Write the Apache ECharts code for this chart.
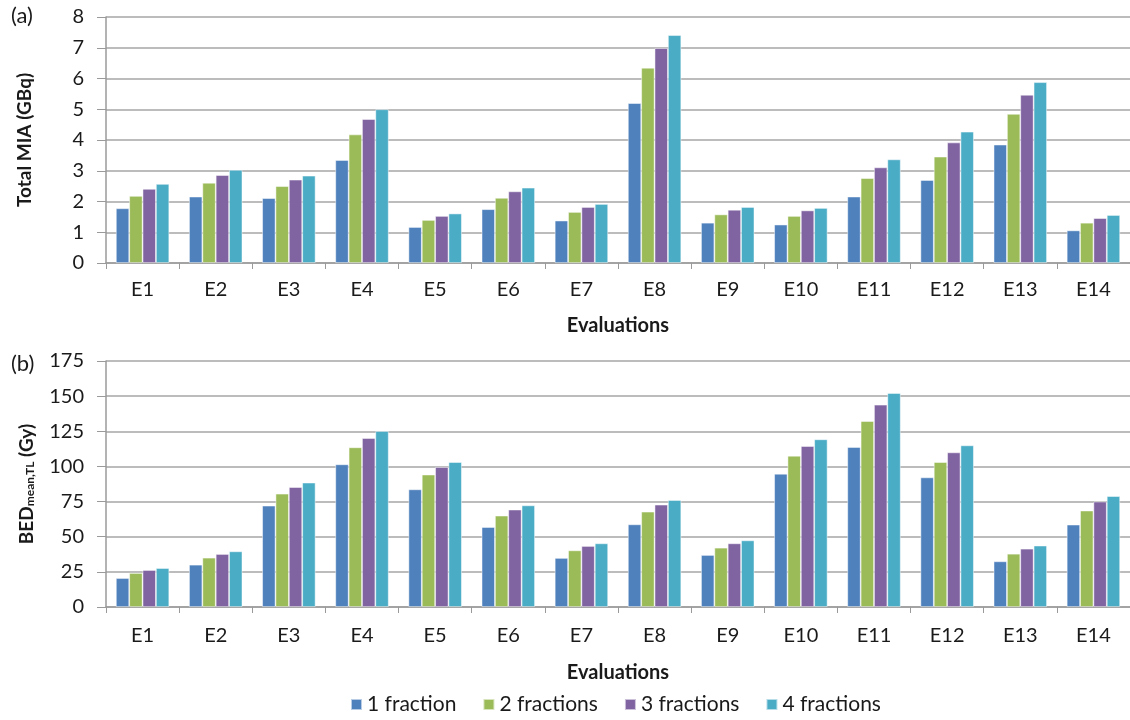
<!DOCTYPE html>
<html><head><meta charset="utf-8">
<script src="https://cdn.jsdelivr.net/npm/echarts@6/dist/echarts.min.js"></script>
<style>html,body{margin:0;padding:0;background:#fff}#c{width:1130px;height:720px}</style>
</head><body><div id="c"></div>
<script>
const categories = ['E1','E2','E3','E4','E5','E6','E7','E8','E9','E10','E11','E12','E13','E14'];
const seriesNames = ['1 fraction','2 fractions','3 fractions','4 fractions'];
// (a) Total MIA (GBq)
const mia1 = [1.78,2.16,2.11,3.35,1.17,1.75,1.38,5.20,1.31,1.25,2.16,2.70,3.85,1.06];
const mia2 = [2.18,2.61,2.50,4.18,1.40,2.12,1.66,6.35,1.58,1.53,2.76,3.46,4.85,1.31];
const mia3 = [2.41,2.86,2.71,4.68,1.53,2.33,1.82,6.99,1.73,1.71,3.11,3.92,5.47,1.46];
const mia4 = [2.57,3.03,2.84,5.00,1.61,2.45,1.92,7.41,1.82,1.79,3.37,4.27,5.88,1.56];
// (b) BED mean,TL (Gy)
const bed1 = [20.6,30.1,72.1,101.5,83.7,56.9,34.9,58.8,37.0,94.8,113.8,92.2,32.5,58.6];
const bed2 = [24.2,35.1,80.6,113.6,94.2,65.0,40.3,67.8,42.2,107.6,132.3,103.1,37.9,68.6];
const bed3 = [26.3,37.7,85.3,120.2,99.6,69.3,43.4,72.8,45.3,114.5,143.9,110.0,41.5,75.0];
const bed4 = [27.7,39.6,88.5,125.2,103.1,72.3,45.3,76.1,47.4,119.3,152.2,115.0,43.7,78.9];
const miaTicks = {min:0,max:8,interval:1};
const bedTicks = {min:0,max:175,interval:25};

const colors = ['#4F81BD','#9BBB59','#8064A2','#4BACC6'];
const FONT = 'Lato';
const chart = echarts.init(document.getElementById('c'));

function xAxis(gridIndex, margin, nameGap){
  return {type:'category', gridIndex, data:categories,
    axisLine:{lineStyle:{color:'#9a9a9a',width:1.5}},
    axisTick:{show:true,alignWithLabel:false,length:6,lineStyle:{color:'#9a9a9a'}},
    axisLabel:{color:'#1a1a1a',fontSize:20,fontFamily:FONT,margin},
    name:'Evaluations', nameLocation:'middle', nameGap,
    nameTextStyle:{color:'#1a1a1a',fontSize:20,fontWeight:'bold',fontFamily:FONT}};
}
function yAxis(gridIndex, t, name, nameGap, rich){
  return {type:'value', gridIndex, min:t.min, max:t.max, interval:t.interval,
    axisLine:{show:true,lineStyle:{color:'#9a9a9a',width:1.5}},
    axisTick:{show:true,length:9,lineStyle:{color:'#9a9a9a'}},
    splitLine:{lineStyle:{color:'#a6a6a6',width:1.5}},
    axisLabel:{color:'#1a1a1a',fontSize:20,fontFamily:FONT,margin:22},
    name, nameLocation:'middle', nameGap, nameRotate:90,
    nameTextStyle:Object.assign({color:'#1a1a1a',fontSize:19,fontWeight:'bold',fontFamily:FONT}, rich?{rich}:{})};
}
const data = [[mia1,mia2,mia3,mia4],[bed1,bed2,bed3,bed4]];
const series = [];
for (let g=0; g<2; g++){
  for (let i=0;i<4;i++){
    series.push({type:'bar', name:seriesNames[i], xAxisIndex:g, yAxisIndex:g,
      data:data[g][i], barGap:'0%', barCategoryGap:'27%',
      itemStyle:{color:colors[i], borderColor:'rgba(255,255,255,0.6)', borderWidth:0.8},
      emphasis:{disabled:true}, animation:false});
  }
}
chart.setOption({
  animation:false,
  textStyle:{fontFamily:FONT},
  grid:[
    {left:106, top:17, width:1029, height:246, containLabel:false},
    {left:106, top:361, width:1029, height:246, containLabel:false}
  ],
  xAxis:[xAxis(0,17,53), xAxis(1,19,56)],
  yAxis:[
    yAxis(0, miaTicks, 'Total MIA (GBq)', 72),
    yAxis(1, bedTicks, '{b|BED}{s|mean,TL}{b| (Gy)}', 70, {
      b:{fontSize:19,fontWeight:'bold',fontFamily:FONT,color:'#1a1a1a',lineHeight:24,verticalAlign:'bottom'},
      s:{fontSize:12,fontWeight:'bold',fontFamily:FONT,color:'#1a1a1a',lineHeight:14,verticalAlign:'bottom'}
    })
  ],
  legend:{data:seriesNames, bottom:0, left:345, itemWidth:11, itemHeight:11, itemGap:26,
    icon:'rect', textStyle:{fontSize:21,fontFamily:FONT,color:'#1a1a1a'}},
  graphic:[
    {type:'text', left:11, top:5, style:{text:'(a)', fontSize:22, fontFamily:FONT, fill:'#1a1a1a'}},
    {type:'text', left:11, top:353, style:{text:'(b)', fontSize:22, fontFamily:FONT, fill:'#1a1a1a'}}
  ],
  series
});
</script></body></html>
